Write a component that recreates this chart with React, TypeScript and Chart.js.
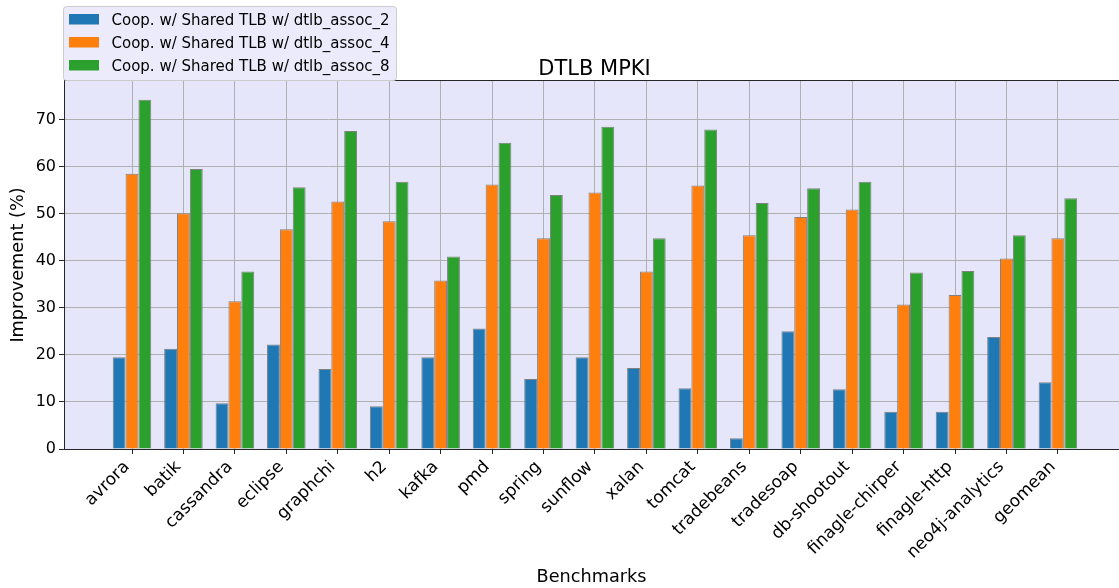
import React, { useEffect, useRef } from "react";
import { Chart, registerables } from "chart.js";

Chart.register(...registerables);

const categories = [
  "avrora", "batik", "cassandra", "eclipse", "graphchi", "h2", "kafka", "pmd",
  "spring", "sunflow", "xalan", "tomcat", "tradebeans", "tradesoap", "db-shootout",
  "finagle-chirper", "finagle-http", "neo4j-analytics", "geomean",
];

const assoc2 = [19.5, 21.3, 9.7, 22.2, 17.0, 9.1, 19.5, 25.6, 14.9, 19.5, 17.2, 12.9, 2.3, 25.0, 12.7, 7.9, 7.9, 23.8, 14.2];
const assoc4 = [58.5, 50.1, 31.4, 46.7, 52.6, 48.4, 35.8, 56.2, 44.8, 54.5, 37.7, 56.0, 45.4, 49.3, 50.9, 30.7, 32.7, 40.5, 44.8];
const assoc8 = [74.2, 59.5, 37.7, 55.6, 67.6, 56.8, 40.9, 65.1, 54.0, 68.5, 44.8, 67.9, 52.3, 55.4, 56.8, 37.5, 37.8, 45.4, 53.3];

const seriesLabels = [
  "Coop. w/ Shared TLB w/ dtlb_assoc_2",
  "Coop. w/ Shared TLB w/ dtlb_assoc_4",
  "Coop. w/ Shared TLB w/ dtlb_assoc_8",
];
const seriesColors = ["#1f77b4", "#ff7f0e", "#2ca02c"];
const yTickValues = [0, 10, 20, 30, 40, 50, 60, 70];

const chartTitle = "DTLB MPKI";
const xTitle = "Benchmarks";
const yTitle = "Improvement (%)";

const FONT = "'DejaVu Sans', sans-serif";

const overlayPlugin = {
  id: "overlay",
  afterDraw(chart: any) {
    const ctx = chart.ctx;
    const { left, right, top } = chart.chartArea;
    ctx.save();
    ctx.fillStyle = "#262626";
    ctx.fillRect(left, Math.round(top) - 1, right - left, 1);
    ctx.fillStyle = "#000";
    ctx.font = `21px ${FONT}`;
    ctx.textAlign = "center";
    ctx.textBaseline = "alphabetic";
    ctx.fillText(chartTitle, (left + right) / 2 + 3, 75);
    const lx = 63.5, ly = 6.5, lw = 333, lh = 74;
    ctx.beginPath();
    ctx.roundRect(lx, ly, lw, lh, 3);
    ctx.fillStyle = "rgba(235,235,251,1)";
    ctx.fill();
    ctx.strokeStyle = "#cccccc";
    ctx.lineWidth = 1;
    ctx.stroke();
    ctx.font = `15px ${FONT}`;
    ctx.textAlign = "left";
    for (let k = 0; k < seriesLabels.length; k++) {
      const cy = 19 + k * 23;
      ctx.fillStyle = seriesColors[k];
      ctx.fillRect(69, cy - 5, 30, 10.5);
      ctx.fillStyle = "#000";
      ctx.fillText(seriesLabels[k], 111.5, cy + 6.3);
    }
    ctx.restore();
  },
};

const bgPlugin = {
  id: "plotbg",
  beforeDraw(chart: any) {
    const ctx = chart.ctx;
    const { left, right, top, bottom } = chart.chartArea;
    ctx.save();
    ctx.fillStyle = "#ffffff";
    ctx.fillRect(0, 0, chart.width, chart.height);
    ctx.fillStyle = "#e6e6fa";
    ctx.fillRect(left, top, right - left, bottom - top);
    ctx.restore();
  },
};

export default function App() {
  const canvasRef = useRef<HTMLCanvasElement | null>(null);

  useEffect(() => {
    if (!canvasRef.current) return;
    const series = [assoc2, assoc4, assoc8];
    const chart = new Chart(canvasRef.current, {
      type: "bar",
      data: {
        datasets: series.map((vals, k) => ({
          label: seriesLabels[k],
          data: vals.map((v, i) => ({ x: i, y: v })),
          backgroundColor: seriesColors[k],
          borderColor: "#808080",
          borderWidth: 1,
          categoryPercentage: 0.75,
          barPercentage: 1,
        })),
      },
      options: {
        animation: false,
        responsive: false,
        maintainAspectRatio: false,
        layout: { padding: { top: 81, left: 0, right: 0, bottom: 0 } },
        plugins: {
          legend: { display: false },
          title: { display: false },
          tooltip: { enabled: false },
        },
        scales: {
          x: {
            type: "linear",
            offset: false,
            min: -1.322,
            max: 19.188,
            z: 1,
            afterBuildTicks: (s: any) => {
              s.ticks = categories.map((_, i) => ({ value: i }));
            },
            afterFit: (s: any) => {
              s.height = 139;
            },
            ticks: {
              autoSkip: false,
              minRotation: 45,
              maxRotation: 45,
              padding: 3,
              labelOffset: -5,
              color: "#000",
              font: { family: FONT, size: 17 },
              callback: (v: any) => categories[v] ?? "",
            },
            grid: { offset: false, color: "#b0b0b0", lineWidth: 1, tickLength: 5, tickColor: "#262626" },
            border: { color: "#262626", width: 1 },
            title: {
              display: true,
              text: xTitle,
              color: "#000",
              font: { family: FONT, size: 17.7 },
              padding: { top: 0, bottom: 0 },
            },
          },
          y: {
            type: "linear",
            min: 0,
            max: 78.2,
            z: 1,
            afterBuildTicks: (s: any) => {
              s.ticks = yTickValues.map((v) => ({ value: v }));
            },
            afterFit: (s: any) => {
              s.width = 64;
            },
            ticks: {
              padding: 3,
              color: "#000",
              font: { family: FONT, size: 16 },
              callback: (v: any) => String(v),
            },
            grid: { color: "#b0b0b0", lineWidth: 1, tickLength: 5, tickColor: "#262626" },
            border: { color: "#262626", width: 1 },
            title: {
              display: true,
              text: yTitle,
              color: "#000",
              font: { family: FONT, size: 17.7 },
              padding: { top: 8, bottom: 0 },
            },
          },
        },
      },
      plugins: [bgPlugin, overlayPlugin],
    } as any);
    return () => chart.destroy();
  }, []);

  return (
    <div style={{ position: "fixed", left: 0, top: 0, width: 1119, height: 588, background: "#fff" }}>
      <canvas ref={canvasRef} width={1119} height={588} style={{ display: "block" }} />
    </div>
  );
}
